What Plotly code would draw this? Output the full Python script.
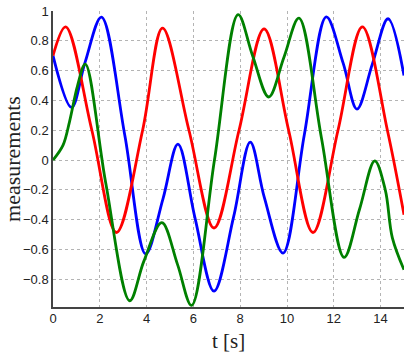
import plotly.graph_objects as go

# values: turning points plus the half-way crossings between them
t_blue = [0, 0.79, 1.37, 2.07, 3.07, 3.96, 4.7, 5.34, 6.07, 6.88, 7.72, 8.43,
          9.03, 9.83, 10.74, 11.68, 12.4, 12.99, 13.65, 14.32, 15]
blue = [0.70, 0.353, 0.655, 0.959, 0.165, -0.63, -0.26, 0.107, -0.39, -0.88, -0.38, 0.12,
        -0.25, -0.624, 0.17, 0.96, 0.65, 0.342, 0.645, 0.948, 0.567]

t_red = [0, 0.54, 1.66, 2.71, 3.83, 4.68, 5.81, 6.88, 7.95, 9.02, 10.07, 11.11,
         12.18, 13.22, 14.29, 15]
red = [0.70, 0.894, 0.2, -0.486, 0.2, 0.885, 0.2, -0.456, 0.2, 0.88, 0.2, -0.486,
       0.2, 0.894, 0.2, -0.367]

t_green = [0, 0.43, 0.71, 1.05, 1.38, 2.25, 3.28, 3.88, 4.65, 5.32, 5.92, 6.9, 7.91,
           8.53, 9.22, 9.87, 10.51, 11.47, 12.44, 13.1, 13.75, 14.2, 14.5, 15]
green = [0.0, 0.1, 0.26, 0.5, 0.644, -0.15, -0.944, -0.68, -0.42, -0.70, -0.975, 0.0, 0.975,
         0.70, 0.423, 0.69, 0.952, 0.15, -0.653, -0.33, -0.005, -0.2, -0.52, -0.736]

series = [(t_blue, blue, "#0000ff"), (t_red, red, "#ff0000"), (t_green, green, "#008000")]

fig = go.Figure()
for t, v, color in series:
    fig.add_trace(go.Scatter(x=t, y=v, mode="lines",
                             line=dict(color=color, width=2.8, shape="spline", smoothing=1)))

axis_style = dict(showline=True, linecolor="#444444", linewidth=1.5, mirror=False,
                  showgrid=True, gridcolor="#b4b4b4", griddash="dot", gridwidth=1,
                  zeroline=False, ticks="", automargin=False, ticklabeloverflow="allow",
                  tickfont=dict(family="Liberation Sans, Arial", size=13, color="#222222"))

fig.update_xaxes(range=[0, 15], tick0=0, dtick=2, ticklabelstandoff=-1, **axis_style,
                 title=dict(text="t [s]", standoff=8,
                            font=dict(family="Liberation Serif, serif", size=21, color="#222222")))
fig.update_yaxes(range=[-0.986, 1], tick0=0, dtick=0.2, **axis_style,
                 title=dict(text="measurements", standoff=14,
                            font=dict(family="Liberation Serif, serif", size=22, color="#222222")))

fig.update_layout(width=415, height=355, showlegend=False,
                  margin=dict(l=53, r=11, t=11, b=48),
                  paper_bgcolor="white", plot_bgcolor="white")

# drop the page's default body margin so the figure sits at the window's corner
fig.write_html("out.html", config={"displayModeBar": False},
               post_script="document.body.style.margin = '0';")
